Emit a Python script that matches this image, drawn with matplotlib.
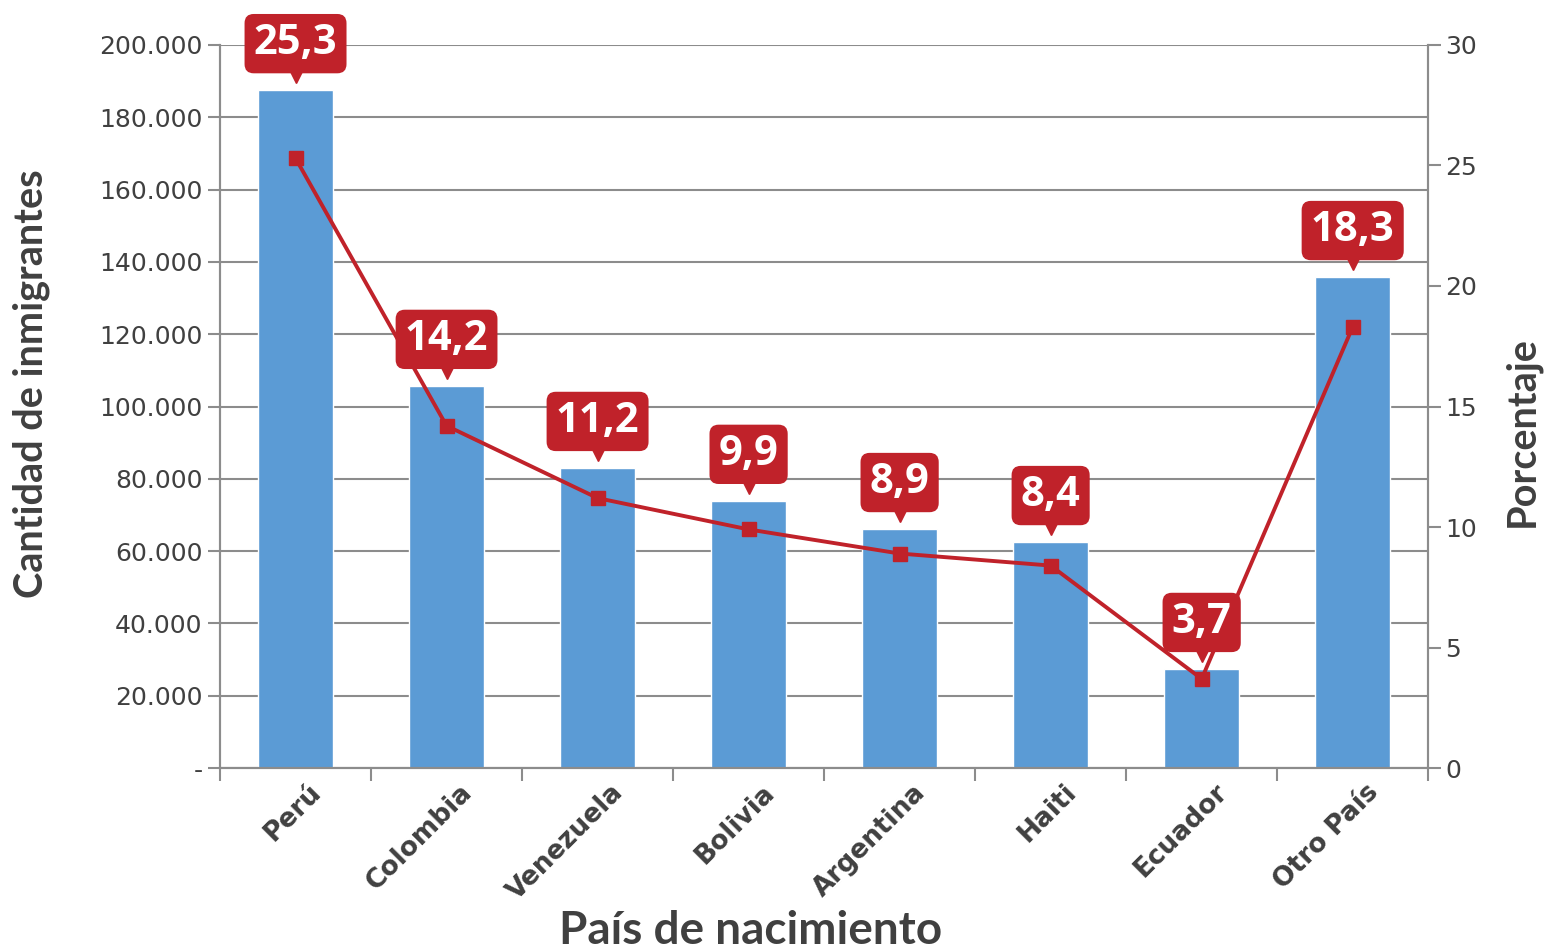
import matplotlib.pyplot as plt
import matplotlib.transforms as mtransforms
from matplotlib.ticker import FuncFormatter, MultipleLocator

paises = ["Perú", "Colombia", "Venezuela", "Bolivia", "Argentina", "Haiti", "Ecuador", "Otro País"]
inmigrantes = [187500, 105700, 83000, 73900, 66100, 62500, 27400, 135800]
porcentaje = [25.3, 14.2, 11.2, 9.9, 8.9, 8.4, 3.7, 18.3]
etiquetas = ["25,3", "14,2", "11,2", "9,9", "8,9", "8,4", "3,7", "18,3"]

AZUL = "#5B9BD5"
ROJO = "#C0222A"
GRIS = "#8C8C8C"
TEXTO = "#404040"

fig = plt.figure(figsize=(15.44, 9.51), dpi=100)
ax = fig.add_axes([0.1425, 0.1924, 0.7825, 0.7603])
ax2 = ax.twinx()

x = list(range(len(paises)))
ax.bar(x, inmigrantes, width=0.5, color=AZUL, edgecolor="white", linewidth=1, zorder=2)
ax.set_xlim(-0.5, len(paises) - 0.5)
ax.set_ylim(0, 200000)
ax.yaxis.set_major_locator(MultipleLocator(20000))

def miles(v, pos):
    if v == 0:
        return "-"
    return f"{int(v):,}".replace(",", ".")

ax.yaxis.set_major_formatter(FuncFormatter(miles))
ax.grid(axis="y", color=GRIS, linewidth=1.5, zorder=0)
ax.set_axisbelow(True)

# linea de porcentaje
ax2.plot(x, porcentaje, color=ROJO, linewidth=2.8, marker="s", markersize=10, zorder=3)
ax2.set_ylim(0, 30)
ax2.yaxis.set_major_locator(MultipleLocator(5))

# etiquetas tipo globo sobre cada barra
tr = mtransforms.offset_copy(ax.transData, fig=fig, x=0, y=13, units="dots")
for i in range(len(paises)):
    ax2.annotate(etiquetas[i], xy=(i, inmigrantes[i]), xycoords=ax.transData,
                 xytext=(0, 33.5), textcoords="offset points", ha="center", va="center",
                 fontsize=30, fontweight="bold", color="white", family="Open Sans",
                 bbox=dict(boxstyle="round,pad=0.22,rounding_size=0.22", fc=ROJO, ec="none"),
                 zorder=6)
    ax2.plot(i, inmigrantes[i], marker="v", markersize=9, color=ROJO, transform=tr,
             zorder=6, clip_on=False)

for a in (ax, ax2):
    a.spines["top"].set_visible(False)
    for s in ("left", "right", "bottom"):
        a.spines[s].set_color(GRIS)
        a.spines[s].set_linewidth(1.5)

ax.tick_params(axis="y", colors=GRIS, labelcolor=TEXTO, labelsize=18, length=9, width=1.5)
ax2.tick_params(axis="y", colors=GRIS, labelcolor=TEXTO, labelsize=18, length=9, width=1.5)

ax.set_xticks(x)
ax.set_xticklabels(paises, rotation=45, ha="right", rotation_mode="anchor",
                   fontsize=19, fontweight="bold", color=TEXTO)
ax.set_xticks([i - 0.5 for i in range(len(paises) + 1)], minor=True)
ax.tick_params(axis="x", which="major", length=0, pad=8)
ax.tick_params(axis="x", which="minor", length=9, width=1.5, colors=GRIS)
desplaza = mtransforms.ScaledTranslation(0.13, 0, fig.dpi_scale_trans)
for lab in ax.get_xticklabels():
    lab.set_transform(lab.get_transform() + desplaza)

ax.set_xlabel("País de nacimiento", fontsize=33, fontweight="bold", color=TEXTO,
              family="Lato", va="center")
ax.xaxis.set_label_coords(0.439, -0.226)
ax.set_ylabel("Cantidad de inmigrantes", fontsize=28.5, fontweight="bold", color=TEXTO,
              family="Lato", va="center")
ax.yaxis.set_label_coords(-0.1565, 0.531)
ax2.set_ylabel("Porcentaje", fontsize=28.5, fontweight="bold", color=TEXTO,
               family="Lato", va="center")
ax2.yaxis.set_label_coords(1.078, 0.465)

fig.savefig("out.png", dpi=100)
